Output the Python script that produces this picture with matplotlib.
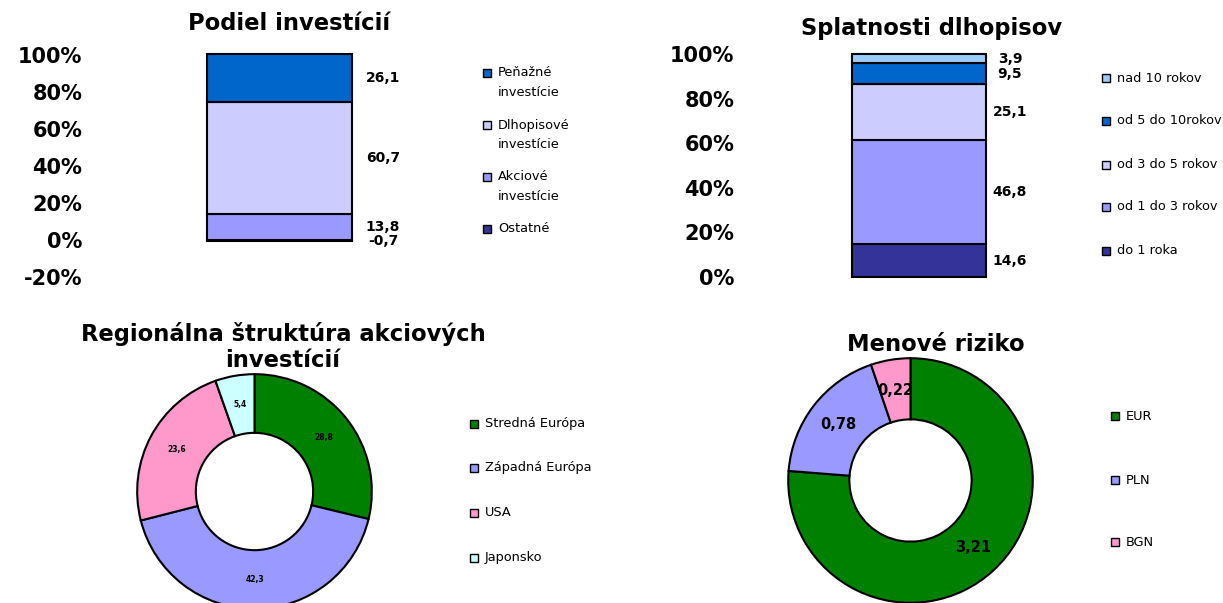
# -*- coding: utf-8 -*-
import numpy as np
import matplotlib
matplotlib.use('Agg')
import matplotlib.pyplot as plt
from matplotlib.patches import Rectangle

plt.rcParams['font.family'] = ['DejaVu Sans']

# --- data ---
inv_labels = ['Peňažné\ninvestície', 'Dlhopisové\ninvestície', 'Akciové\ninvestície', 'Ostatné']
inv_values = [26.1, 60.7, 13.8, -0.7]
inv_colors = ['#0066CC', '#CCCCFF', '#9999FF', '#333399']

mat_labels = ['nad 10 rokov', 'od 5 do 10rokov', 'od 3 do 5 rokov', 'od 1 do 3 rokov', 'do 1 roka']
mat_values = [3.9, 9.5, 25.1, 46.8, 14.6]
mat_colors = ['#99CCFF', '#0066CC', '#CCCCFF', '#9999FF', '#333399']

reg_labels = ['Stredná Európa', 'Západná Európa', 'USA', 'Japonsko']
reg_values = [28.8, 42.3, 23.6, 5.4]
reg_colors = ['#008000', '#9999FF', '#FF99CC', '#CCFFFF']

cur_labels = ['EUR', 'PLN', 'BGN']
cur_values = [3.21, 0.78, 0.22]
cur_colors = ['#008000', '#9999FF', '#FF99CC']

W, H = 1223, 603
fig = plt.figure(figsize=(W / 100, H / 100), dpi=100)
fig.patch.set_facecolor('white')


def px_axes(left, top, right, bottom):
    # pixel box (from top-left) -> figure axes
    return fig.add_axes([left / W, 1 - bottom / H, (right - left) / W, (bottom - top) / H])


def fig_text(x, y, s, **kw):
    fig.text(x / W, 1 - y / H, s, **kw)


def legend(x, ys, labels, colors, step=20):
    for y, lab, c in zip(ys, labels, colors):
        fig.patches.append(Rectangle((x / W, 1 - (y + 4) / H), 8 / W, 8 / H,
                                     transform=fig.transFigure, facecolor=c,
                                     edgecolor='black', linewidth=1.0))
        for i, line in enumerate(lab.split('\n')):
            fig_text(x + 15, y + i * step, line, ha='left', va='center', fontsize=9.3)


def clean(ax):
    for s in ax.spines.values():
        s.set_visible(False)
    ax.tick_params(axis='both', length=0)
    ax.set_xticks([])


def comma(v, nd=1):
    return f'{v:.{nd}f}'.replace('.', ',')


bar_kw = dict(edgecolor='black', linewidth=1.5, clip_on=False)

# --- Podiel investícií ---
ax1 = px_axes(88, 55, 471, 277)
pos_bottom = 0.0
neg_bottom = 0.0
bw = 145 / 383
for v, c in zip(inv_values[::-1], inv_colors[::-1]):
    if v >= 0:
        b = pos_bottom
        pos_bottom += v
    else:
        b = neg_bottom
        neg_bottom += v
    ax1.bar(0.5, v, bw, bottom=b, color=c, **bar_kw)
    ax1.text(0.77, b + v / 2, comma(v), ha='center', va='center',
             fontsize=10, fontweight='bold')
ax1.set_xlim(0, 1)
ax1.set_ylim(-20, 100)
ax1.set_yticks(np.arange(-20, 101, 20))
ax1.set_yticklabels([f'{t}%' for t in range(-20, 101, 20)], fontsize=15, fontweight='bold')
ax1.tick_params(axis='y', pad=4)
clean(ax1)
fig_text(289, 23, 'Podiel investícií', ha='center', va='center', fontsize=16.3, fontweight='bold')
legend(483, [73, 125, 177, 229], inv_labels, inv_colors)

# --- Splatnosti dlhopisov ---
ax2 = px_axes(740, 54, 1098, 277)
bw2 = 134 / 358
b = 0.0
for v, c in zip(mat_values[::-1], mat_colors[::-1]):
    ax2.bar(0.5, v, bw2, bottom=b, color=c, **bar_kw)
    ax2.text(0.754, b + v / 2, comma(v), ha='center', va='center',
             fontsize=10, fontweight='bold')
    b += v
ax2.set_xlim(0, 1)
ax2.set_ylim(0, 100)
ax2.set_yticks(np.arange(0, 101, 20))
ax2.set_yticklabels([f'{t}%' for t in range(0, 101, 20)], fontsize=15, fontweight='bold')
ax2.tick_params(axis='y', pad=4)
clean(ax2)
fig_text(932, 29, 'Splatnosti dlhopisov', ha='center', va='center', fontsize=16.3, fontweight='bold')
legend(1102, [78, 121, 165, 207, 251], mat_labels, mat_colors)


# --- donuts ---
def donut(cx, cy, r, values, colors, nd, fs):
    ax = px_axes(cx - r, cy - r, cx + r, cy + r)
    wedges, _ = ax.pie(values, colors=colors, startangle=90, counterclock=False,
                       radius=1, wedgeprops=dict(width=0.5, edgecolor='black', linewidth=1.5))
    for w, v in zip(wedges, values):
        ang = np.deg2rad((w.theta1 + w.theta2) / 2)
        ax.text(0.75 * np.cos(ang), 0.75 * np.sin(ang), comma(v, nd),
                ha='center', va='center', fontsize=fs, fontweight='bold')
    ax.set_xlim(-1.01, 1.01)
    ax.set_ylim(-1.01, 1.01)
    ax.set_axis_off()
    return ax


donut(254.5, 491.5, 118.5, reg_values, reg_colors, 1, 5.5)
fig_text(283, 347, 'Regionálna štruktúra akciových\ninvestícií', ha='center', va='center',
         fontsize=16.3, fontweight='bold', linespacing=1.15)
legend(470, [424, 468, 513, 558], reg_labels, reg_colors)

donut(910.5, 480.5, 123.5, cur_values, cur_colors, 2, 10.5)
fig_text(936, 345, 'Menové riziko', ha='center', va='center', fontsize=16.3, fontweight='bold')
legend(1111, [416, 480, 542], cur_labels, cur_colors)

fig.savefig('out.png', dpi=100, facecolor='white')
